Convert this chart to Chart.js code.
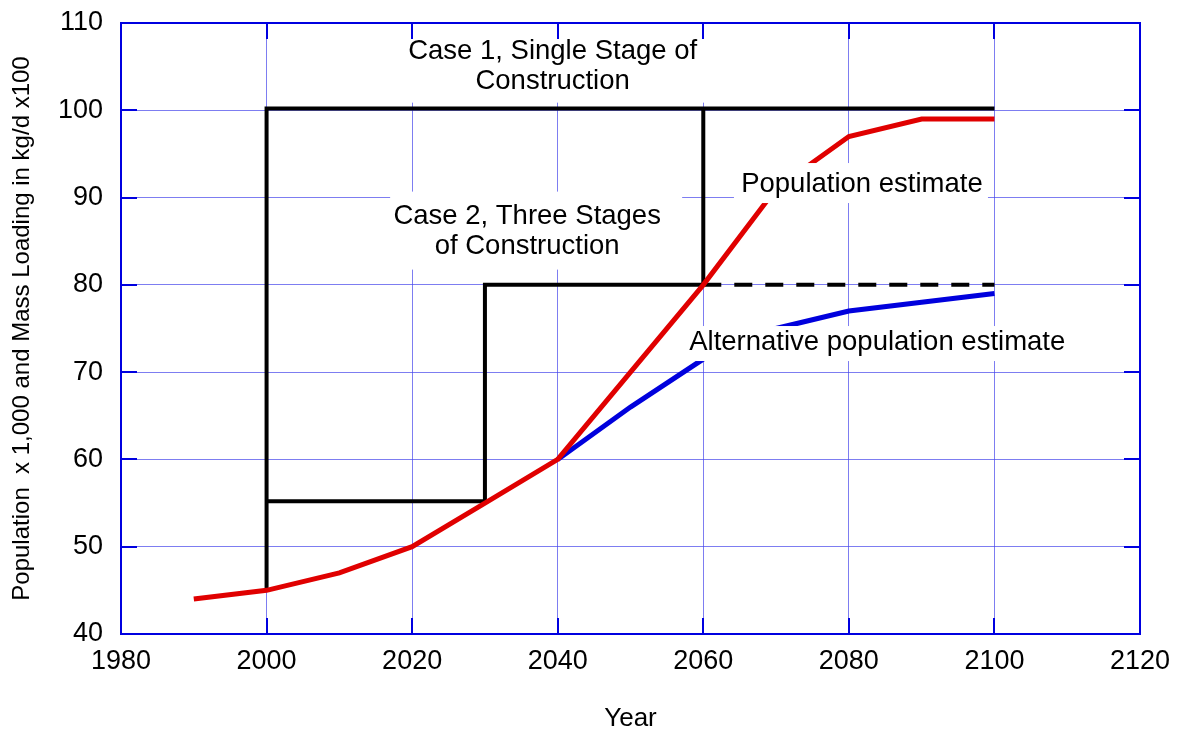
<!DOCTYPE html>
<html>
<head>
<meta charset="utf-8">
<script src="https://cdn.jsdelivr.net/npm/chart.js@4/dist/chart.umd.min.js"></script>
<style>
  html, body { margin: 0; padding: 0; background: #fff; }
  #wrap { width: 1183px; height: 734px; }
</style>
</head>
<body>
<div id="wrap"><canvas id="c" width="1183" height="734"></canvas></div>
<script>
// ---- data ----
const popYears = [1990, 2000, 2010, 2020, 2030, 2040, 2050, 2060, 2070, 2080, 2090, 2100];
const popValues = [44, 45, 47, 50, 55, 60, 70, 80, 91, 97, 99, 99];
const altYears = [2040, 2050, 2060, 2070, 2080, 2090, 2100];
const altValues = [60, 66, 71.5, 75, 77, 78, 79];
const case1Years = [2000, 2000, 2100];
const case1Values = [45, 100.2, 100.2];
const case2Years = [2000, 2030, 2030, 2060, 2060];
const case2Values = [55.2, 55.2, 80, 80, 100.2];
const case2FutureYears = [2060, 2100];
const case2FutureValues = [80, 80];
const xTicks = [1980, 2000, 2020, 2040, 2060, 2080, 2100, 2120];
const yTicks = [40, 50, 60, 70, 80, 90, 100, 110];
const xTitle = 'Year';
const yTitle = 'Population  x 1,000 and Mass Loading in kg/d x100';
const noteCase1 = ['Case 1, Single Stage of', 'Construction'];
const noteCase2 = ['Case 2, Three Stages', 'of Construction'];
const notePop = ['Population estimate'];
const noteAlt = ['Alternative population estimate'];

const pts = (xs, ys) => xs.map((x, i) => ({ x: x, y: ys[i] }));
const FONT = '"Liberation Sans", Arial, sans-serif';

// annotations: anchor in data coords; white box as pixel offsets around the anchor
const notes = [
  { lines: noteCase1, x: 2039.3, y: 105.0, box: [-158, -39, 157, 36] },
  { lines: noteCase2, x: 2035.8, y: 86.1, box: [-137, -40, 155, 38] },
  { lines: notePop, x: 2081.8, y: 91.55, box: [-128, -21, 126, 19] },
  { lines: noteAlt, x: 2083.9, y: 73.45, box: [-197, -16, 198, 19] }
];

const notesPlugin = {
  id: 'notes',
  afterDatasetsDraw(chart) {
    const ctx = chart.ctx;
    const xs = chart.scales.x, ys = chart.scales.y;
    ctx.save();
    notes.forEach(n => {
      const cx = xs.getPixelForValue(n.x);
      const cy = ys.getPixelForValue(n.y);
      const b = n.box;
      ctx.fillStyle = '#ffffff';
      ctx.fillRect(cx + b[0], cy + b[1], b[2] - b[0], b[3] - b[1]);
      ctx.fillStyle = '#000000';
      ctx.font = '27.5px ' + FONT;
      ctx.textAlign = 'center';
      ctx.textBaseline = 'middle';
      const lh = 30;
      const start = cy - (n.lines.length - 1) * lh / 2;
      n.lines.forEach((t, i) => ctx.fillText(t, cx, start + i * lh));
    });
    ctx.restore();
  }
};

const framePlugin = {
  id: 'frame',
  afterDraw(chart) {
    const a = chart.chartArea, ctx = chart.ctx;
    const xs = chart.scales.x, ys = chart.scales.y;
    ctx.save();
    ctx.strokeStyle = '#0000e0';
    ctx.lineWidth = 2;
    ctx.beginPath();
    yTicks.forEach(v => {
      const y = Math.round(ys.getPixelForValue(v));
      ctx.moveTo(a.left, y); ctx.lineTo(a.left + 16, y);
      ctx.moveTo(a.right, y); ctx.lineTo(a.right - 16, y);
    });
    xTicks.forEach(v => {
      const x = Math.round(xs.getPixelForValue(v));
      ctx.moveTo(x, a.top); ctx.lineTo(x, a.top + 16);
      ctx.moveTo(x, a.bottom); ctx.lineTo(x, a.bottom - 16);
    });
    ctx.stroke();
    ctx.strokeRect(a.left, a.top, a.right - a.left, a.bottom - a.top);
    ctx.restore();
  }
};

const lineDs = (data, color, extra) => Object.assign({
  data: data, borderColor: color, backgroundColor: color, borderWidth: 4,
  pointRadius: 0, fill: false, tension: 0
}, extra || {});

new Chart(document.getElementById('c'), {
  type: 'line',
  data: {
    datasets: [
      lineDs(pts(case1Years, case1Values), '#000000', { order: 4, borderJoinStyle: 'miter', borderCapStyle: 'butt' }),
      lineDs(pts(case2Years, case2Values), '#000000', { order: 3, borderJoinStyle: 'miter', borderCapStyle: 'butt' }),
      lineDs(pts(case2FutureYears, case2FutureValues), '#000000', { order: 3, borderDash: [18, 13] }),
      lineDs(pts(altYears, altValues), '#0000dd', { order: 2, borderWidth: 5 }),
      lineDs(pts(popYears, popValues), '#e00000', { order: 1, borderWidth: 5 })
    ]
  },
  options: {
    responsive: false,
    animation: false,
    layout: { padding: { top: 23, right: 43, left: 0, bottom: 0 } },
    plugins: { legend: { display: false }, tooltip: { enabled: false } },
    scales: {
      x: {
        type: 'linear', min: 1980, max: 2120,
        afterBuildTicks: s => { s.ticks = xTicks.map(v => ({ value: v })); },
        afterFit: s => { s.height = 100; s.paddingLeft = 0; s.paddingRight = 0; },
        ticks: { color: '#000', font: { family: FONT, size: 27 }, padding: 11, maxRotation: 0,
                 callback: v => String(v) },
        grid: { color: 'rgba(70,70,235,0.7)', lineWidth: 1, drawTicks: false },
        border: { color: '#0000e0', width: 2 },
        title: { display: true, text: xTitle, color: '#000', font: { family: FONT, size: 26 }, padding: { top: 0, bottom: 0 } }
      },
      y: {
        type: 'linear', min: 40, max: 110,
        afterBuildTicks: s => { s.ticks = yTicks.map(v => ({ value: v })); },
        afterFit: s => { s.width = 121; s.paddingTop = 0; s.paddingBottom = 0; },
        ticks: { color: '#000', font: { family: FONT, size: 27 }, padding: 18, callback: v => String(v) },
        grid: { color: 'rgba(70,70,235,0.7)', lineWidth: 1, drawTicks: false },
        border: { color: '#0000e0', width: 2 },
        title: { display: true, text: yTitle, color: '#000', font: { family: FONT, size: 24 }, padding: { top: 8, bottom: 0 } }
      }
    }
  },
  plugins: [notesPlugin, framePlugin]
});
</script>
</body>
</html>
